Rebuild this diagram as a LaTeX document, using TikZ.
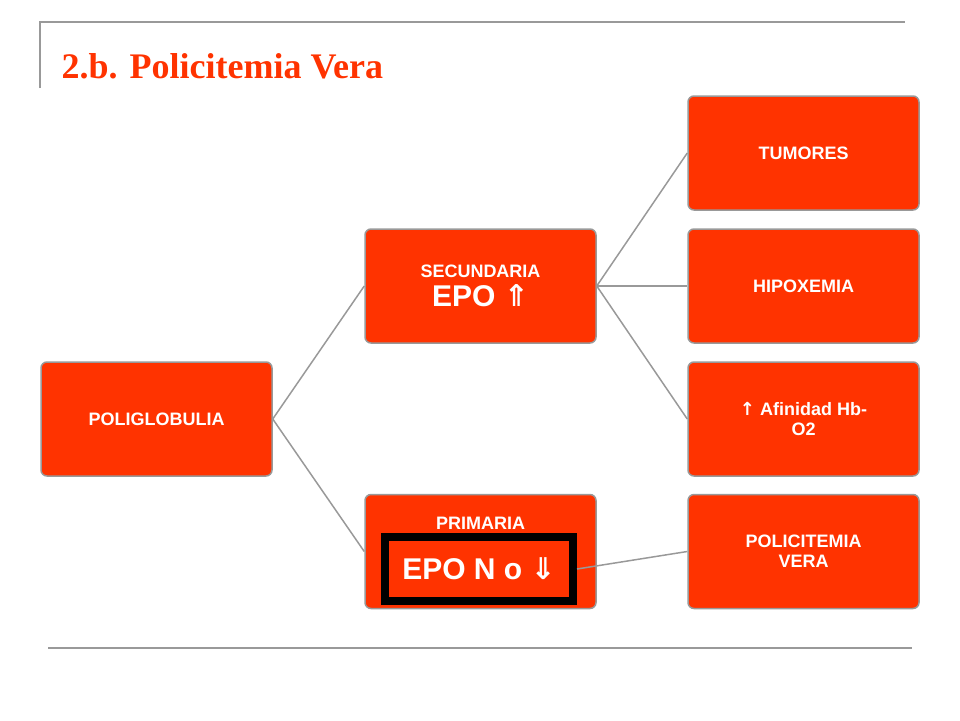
\documentclass[tikz,border=0pt]{standalone}
\usepackage{fontspec}
\setmainfont{Liberation Sans}
\newfontfamily\titlefont{Liberation Serif}
\newfontfamily\symfont{DejaVu Sans}
\usetikzlibrary{positioning}
\definecolor{boxred}{HTML}{FF3300}
\definecolor{edgegray}{HTML}{999999}
\tikzset{
  box/.style={draw=edgegray,line width=1.5pt,fill=boxred,rounded corners=6pt,
    minimum width=231pt,minimum height=114pt,text=white,align=center,
    font=\bfseries\fontsize{18}{20}\selectfont,inner sep=2pt},
  link/.style={draw=edgegray,line width=1.5pt}
}
\begin{document}
\begin{tikzpicture}[x=1pt,y=1pt]
          \useasboundingbox (0,0) rectangle (960,-720);
          \draw[edgegray,line width=1.5pt] (40,-88)--(40,-22)--(905,-22);
          \draw[edgegray,line width=1.5pt] (48,-648)--(912,-648);
          \node[anchor=base west,text=boxred,font=\titlefont\bfseries\fontsize{36}{40}\selectfont] (title) at (58,-78) {2.b. Policitemia Vera};

          \node[box] (poli) at (156.5,-419) {POLIGLOBULIA};
          \node[box] (sec) at (480.5,-286) {SECUNDARIA\\[6pt]{\fontsize{30}{32}\selectfont EPO {\symfont ⇑}}};
          \node[box] (pri) at (480.5,-551.5) {};
          \node[box] (tum) at (803.5,-153) {TUMORES};
          \node[box] (hip) at (803.5,-286) {HIPOXEMIA};
          \node[box] (afi) at (803.5,-419) {{\symfont ↑} Afinidad Hb-\\O2};
          \node[box] (pv) at (803.5,-551.5) {POLICITEMIA\\VERA};

          \node[text=white,font=\bfseries\fontsize{18}{20}\selectfont] (prilab) at (480.5,-523) {PRIMARIA};
          \node[draw=black,line width=8pt,fill=boxred,minimum width=188pt,minimum height=64pt,
                text=white,font=\bfseries\fontsize{30}{32}\selectfont,inner sep=0pt] (epo) at (479,-569) {EPO N o {\symfont ⇓}};

          \draw[link] (poli.east)--(sec.west);
          \draw[link] (poli.east)--(pri.west);
          \draw[link] (sec.east)--(tum.west);
          \draw[link] (sec.east)--(hip.west);
          \draw[link] (sec.east)--(afi.west);
          \draw[link] (epo.east)--(pv.west);
\end{tikzpicture}
\end{document}
